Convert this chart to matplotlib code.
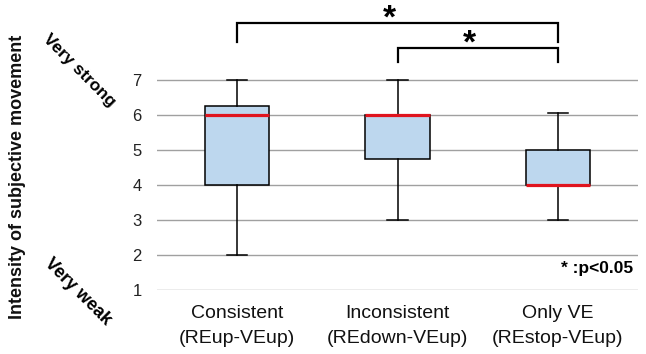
import matplotlib
matplotlib.use("Agg")
import matplotlib.pyplot as plt

plt.rcParams['font.family'] = ['Liberation Sans', 'DejaVu Sans']

categories = ["Consistent\n(REup-VEup)", "Inconsistent\n(REdown-VEup)", "Only VE\n(REstop-VEup)"]
whisker_low = [2, 3, 3]
q1 = [4, 4.75, 4]
median = [6, 6, 4]
q3 = [6.25, 6, 5]
whisker_high = [7, 7, 6.05]
yticks = [1, 2, 3, 4, 5, 6, 7]
# significance pairs (1-based category indices)
sig_pairs = [(1, 3), (2, 3)]
sig_label = "*"
note_text = "* :p<0.05"

W, H = 646, 354
fig = plt.figure(figsize=(W / 100, H / 100), dpi=100)
ax = fig.add_axes([157 / W, 64 / H, (638 - 157) / W, 290 / H])

positions = list(range(1, len(categories) + 1))
stats = []
for i in range(len(categories)):
    stats.append(dict(med=median[i], q1=q1[i], q3=q3[i],
                      whislo=whisker_low[i], whishi=whisker_high[i], fliers=[]))

ax.bxp(stats, positions=positions, widths=0.4, patch_artist=True,
       showfliers=False, capwidths=0.125,
       boxprops=dict(facecolor='#BDD7EE', edgecolor='black', linewidth=1.1),
       medianprops=dict(color='#E0141E', linewidth=2.3),
       whiskerprops=dict(color='black', linewidth=1.1),
       capprops=dict(color='black', linewidth=1.1), zorder=3)

ax.set_xlim(0.5, 3.5)
ax.set_ylim(1, 1 + 290 / 35)
for y in yticks:
    ax.axhline(y, color='#A0A0A0', linewidth=1.0, zorder=1)
ax.set_yticks(yticks)
ax.set_yticklabels([str(t) for t in yticks], fontsize=12, color='#222222')
ax.set_xticks(positions)
ax.set_xticklabels(categories, fontsize=14, linespacing=1.6, color='#111111')
ax.tick_params(axis='both', length=0)
ax.tick_params(axis='y', pad=11)
ax.tick_params(axis='x', pad=11)
for s in ax.spines.values():
    s.set_visible(False)

# significance brackets
bracket_levels = [(8.64, 8.09), (7.91, 7.51)]
for (a, b), (top, leg) in zip(sig_pairs, bracket_levels):
    ax.plot([a, a, b, b], [leg, top, top, leg], color='black', linewidth=1.6,
            solid_joinstyle='miter', clip_on=False)
    ax.text((a + b) / 2 - 0.05, top - 0.13, sig_label, ha='center', va='baseline',
            fontsize=24, fontweight='bold')

ax.text(3.47, 1.6, note_text, ha='right', va='center', fontsize=12.5,
        fontweight='bold')

fig.text(18 / W, 0.5, "Intensity of subjective movement", rotation=90,
         ha='center', va='center', fontsize=13, fontweight='bold', color='#111111')
fig.text(79 / W, 1 - 71 / H, "Very strong", rotation=-45, ha='center', va='center',
         fontsize=12.5, fontweight='bold', rotation_mode='anchor')
fig.text(78 / W, 1 - 292 / H, "Very weak", rotation=-45, ha='center', va='center',
         fontsize=13, fontweight='bold', rotation_mode='anchor')

fig.savefig("out.png", dpi=100)
